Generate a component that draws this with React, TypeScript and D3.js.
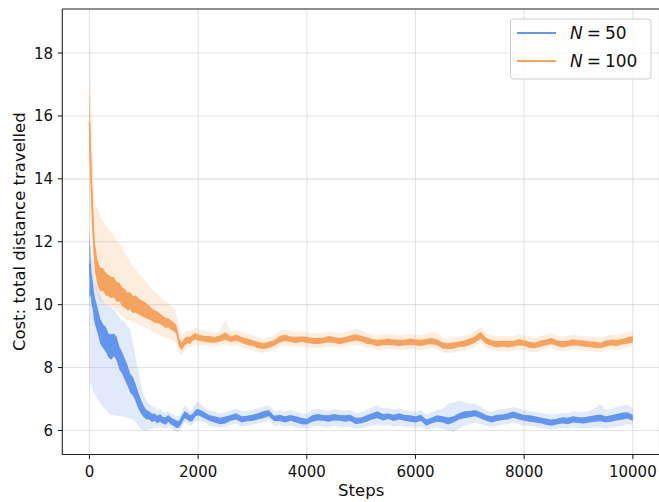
import React from 'react';
import * as d3 from 'd3';

// x positions (training steps)
const steps = [
  0, 20, 40, 60, 80, 100, 150, 200, 250, 300, 350, 400, 450, 500, 550, 600, 650, 700, 750, 800,
  850, 900, 950, 1000, 1050, 1100, 1150, 1200, 1250, 1300, 1350, 1400, 1450, 1500, 1550, 1600, 1650, 1700, 1750, 1800,
  1850, 1900, 1950, 2000,
  2100, 2200, 2300, 2400, 2500, 2600, 2700, 2800, 2900, 3000,
  3100, 3200, 3300, 3400, 3500, 3600, 3700, 3800, 3900, 4000,
  4100, 4200, 4300, 4400, 4500, 4600, 4700, 4800, 4900, 5000,
  5100, 5200, 5300, 5400, 5500, 5600, 5700, 5800, 5900, 6000,
  6100, 6200, 6300, 6400, 6500, 6600, 6700, 6800, 6900, 7000,
  7100, 7200, 7300, 7400, 7500, 7600, 7700, 7800, 7900, 8000,
  8100, 8200, 8300, 8400, 8500, 8600, 8700, 8800, 8900, 9000,
  9100, 9200, 9300, 9400, 9500, 9600, 9700, 9800, 9900, 10000,
];

// N = 50
const blueMean = [
  11.3, 10.9, 10.5, 10.3, 10.0, 9.8, 9.5, 9.15, 9.0, 8.9, 8.7, 8.65, 8.72, 8.6, 8.3, 8.15, 7.95, 7.75, 7.5, 7.4,
  7.2, 6.95, 6.75, 6.6, 6.5, 6.48, 6.4, 6.42, 6.35, 6.4, 6.32, 6.3, 6.38, 6.3, 6.25, 6.2, 6.2, 6.35, 6.5, 6.45,
  6.38, 6.42, 6.55, 6.58,
  6.5, 6.4, 6.35, 6.3, 6.33, 6.4, 6.45, 6.35, 6.38, 6.4,
  6.45, 6.5, 6.55, 6.38, 6.4, 6.35, 6.4, 6.35, 6.3, 6.28,
  6.38, 6.42, 6.4, 6.38, 6.42, 6.4, 6.38, 6.4, 6.3, 6.32,
  6.38, 6.45, 6.5, 6.42, 6.45, 6.4, 6.45, 6.4, 6.38, 6.35,
  6.4, 6.25, 6.32, 6.38, 6.35, 6.3, 6.35, 6.45, 6.5, 6.52,
  6.55, 6.48, 6.4, 6.35, 6.4, 6.42, 6.45, 6.5, 6.45, 6.4,
  6.38, 6.35, 6.32, 6.28, 6.25, 6.28, 6.32, 6.3, 6.35, 6.33,
  6.32, 6.35, 6.38, 6.4, 6.35, 6.38, 6.42, 6.45, 6.48, 6.4,
];
const blueNoise = [
  1.1, 0.6, 0.5, 0.45, 0.45, 0.42, 0.4, 0.4, 0.38, 0.4, 0.38, 0.4, 0.36, 0.38, 0.36, 0.35, 0.34, 0.33, 0.3, 0.3,
  0.28, 0.26, 0.22, 0.18, 0.15, 0.13, 0.13, 0.12, 0.12, 0.12, 0.11, 0.12, 0.11, 0.11, 0.11, 0.12, 0.11, 0.12, 0.11, 0.11,
  0.1, 0.11, 0.11, 0.1,
  0.1, 0.09, 0.1, 0.1, 0.11, 0.09, 0.1, 0.1, 0.09, 0.1,
  0.1, 0.11, 0.1, 0.09, 0.1, 0.1, 0.09, 0.1, 0.1, 0.09,
  0.1, 0.1, 0.09, 0.1, 0.1, 0.09, 0.1, 0.1, 0.1, 0.09,
  0.1, 0.1, 0.11, 0.1, 0.09, 0.1, 0.1, 0.09, 0.1, 0.1,
  0.1, 0.1, 0.09, 0.1, 0.1, 0.11, 0.1, 0.1, 0.11, 0.1,
  0.1, 0.1, 0.09, 0.1, 0.1, 0.09, 0.1, 0.1, 0.1, 0.09,
  0.1, 0.1, 0.09, 0.1, 0.1, 0.09, 0.1, 0.1, 0.1, 0.09,
  0.1, 0.1, 0.1, 0.11, 0.1, 0.1, 0.1, 0.11, 0.1, 0.1,
];
const blueLow = [
  7.3, 7.5, 7.4, 7.3, 7.2, 7.15, 7.0, 6.85, 6.75, 6.65, 6.55, 6.5, 6.5, 6.45, 6.45, 6.45, 6.42, 6.4, 6.38, 6.35,
  6.25, 6.15, 6.05, 6.0, 6.0, 6.02, 6.05, 6.1, 6.08, 6.12, 6.08, 6.05, 6.12, 6.08, 6.0, 5.95, 5.95, 6.1, 6.25, 6.2,
  6.15, 6.2, 6.3, 6.3,
  6.28, 6.15, 6.1, 6.1, 6.12, 6.18, 6.22, 6.12, 6.15, 6.18,
  6.22, 6.25, 6.3, 6.15, 6.18, 6.12, 6.16, 6.1, 6.08, 6.06,
  6.12, 6.15, 6.12, 6.1, 6.15, 6.12, 6.1, 6.12, 6.05, 6.08,
  6.12, 6.15, 6.2, 6.15, 6.18, 6.12, 6.16, 6.12, 6.1, 6.08,
  6.12, 6.02, 6.06, 6.1, 6.05, 6.0, 5.95, 6.05, 6.15, 6.2,
  6.25, 6.2, 6.15, 6.1, 6.15, 6.18, 6.2, 6.25, 6.2, 6.15,
  6.14, 6.12, 6.08, 6.05, 6.03, 6.05, 6.08, 6.06, 6.1, 6.08,
  6.06, 6.08, 6.1, 6.1, 6.05, 6.1, 6.12, 6.15, 6.2, 6.15,
];
const blueHigh = [
  12.45, 12.0, 11.6, 11.3, 11.0, 10.7, 10.5, 10.3, 10.1, 10.0, 9.95, 9.9, 9.85, 9.7, 9.6, 9.5, 9.45, 9.3, 9.2, 8.8,
  8.3, 7.9, 7.4, 7.1, 6.95, 6.85, 6.75, 6.75, 6.65, 6.7, 6.6, 6.55, 6.62, 6.55, 6.5, 6.45, 6.45, 6.6, 6.8, 6.72,
  6.62, 6.68, 6.85, 6.92,
  6.75, 6.65, 6.6, 6.55, 6.58, 6.65, 6.7, 6.62, 6.62, 6.65,
  6.7, 6.75, 6.8, 6.62, 6.65, 6.6, 6.65, 6.6, 6.55, 6.52,
  6.65, 6.7, 6.66, 6.62, 6.68, 6.65, 6.62, 6.65, 6.55, 6.58,
  6.65, 6.72, 6.8, 6.7, 6.72, 6.66, 6.7, 6.66, 6.62, 6.6,
  6.65, 6.5, 6.58, 6.65, 6.7, 6.85, 6.9, 6.95, 6.9, 6.85,
  6.85, 6.75, 6.65, 6.6, 6.65, 6.68, 6.7, 6.75, 6.7, 6.65,
  6.62, 6.6, 6.56, 6.52, 6.5, 6.52, 6.56, 6.55, 6.6, 6.58,
  6.58, 6.62, 6.7, 6.85, 6.65, 6.68, 6.75, 6.78, 6.82, 6.7,
];

// N = 100
const orangeMean = [
  15.8, 14.6, 13.6, 12.8, 12.0, 11.5, 11.0, 10.8, 10.8, 10.65, 10.6, 10.55, 10.55, 10.4, 10.4, 10.25, 10.2, 10.1, 10.12, 10.0,
  10.02, 9.95, 9.9, 9.85, 9.8, 9.75, 9.68, 9.62, 9.6, 9.55, 9.48, 9.42, 9.42, 9.35, 9.3, 9.2, 8.78, 8.68, 8.82, 8.88,
  8.86, 8.95, 9.0, 8.95,
  8.92, 8.9, 8.88, 8.92, 9.0, 8.9, 8.95, 8.88, 8.82, 8.78,
  8.72, 8.68, 8.72, 8.78, 8.9, 8.94, 8.9, 8.88, 8.9, 8.88,
  8.85, 8.84, 8.86, 8.9, 8.88, 8.84, 8.88, 8.92, 8.96, 8.92,
  8.86, 8.82, 8.78, 8.8, 8.82, 8.8, 8.78, 8.8, 8.82, 8.8,
  8.78, 8.82, 8.84, 8.8, 8.7, 8.68, 8.7, 8.74, 8.76, 8.82,
  8.9, 9.02, 8.85, 8.78, 8.74, 8.76, 8.74, 8.76, 8.8, 8.78,
  8.72, 8.7, 8.76, 8.8, 8.84, 8.78, 8.74, 8.76, 8.8, 8.78,
  8.76, 8.74, 8.72, 8.7, 8.76, 8.8, 8.78, 8.82, 8.86, 8.9,
];
const orangeNoise = [
  1.1, 0.8, 0.7, 0.6, 0.5, 0.45, 0.4, 0.38, 0.36, 0.36, 0.34, 0.34, 0.32, 0.32, 0.3, 0.3, 0.3, 0.28, 0.28, 0.27,
  0.27, 0.26, 0.25, 0.25, 0.24, 0.22, 0.2, 0.2, 0.18, 0.17, 0.16, 0.16, 0.15, 0.15, 0.14, 0.15, 0.14, 0.12, 0.12, 0.11,
  0.11, 0.1, 0.1, 0.1,
  0.09, 0.1, 0.09, 0.1, 0.12, 0.09, 0.1, 0.09, 0.1, 0.09,
  0.1, 0.09, 0.1, 0.09, 0.1, 0.1, 0.09, 0.1, 0.09, 0.1,
  0.09, 0.1, 0.09, 0.1, 0.09, 0.1, 0.09, 0.1, 0.1, 0.09,
  0.1, 0.09, 0.1, 0.09, 0.1, 0.09, 0.1, 0.09, 0.1, 0.09,
  0.1, 0.09, 0.1, 0.09, 0.1, 0.09, 0.1, 0.09, 0.1, 0.1,
  0.1, 0.11, 0.1, 0.09, 0.1, 0.09, 0.1, 0.09, 0.1, 0.09,
  0.1, 0.09, 0.1, 0.09, 0.1, 0.09, 0.1, 0.09, 0.1, 0.09,
  0.1, 0.09, 0.1, 0.09, 0.1, 0.09, 0.1, 0.09, 0.1, 0.1,
];
const orangeLow = [
  13.8, 12.6, 11.9, 11.3, 10.9, 10.6, 10.3, 10.1, 10.1, 10.0, 9.95, 9.9, 9.9, 9.75, 9.75, 9.62, 9.58, 9.5, 9.52, 9.42,
  9.45, 9.38, 9.33, 9.3, 9.25, 9.22, 9.15, 9.1, 9.08, 9.04, 8.98, 8.94, 8.94, 8.88, 8.84, 8.78, 8.45, 8.4, 8.55, 8.62,
  8.62, 8.7, 8.74, 8.7,
  8.7, 8.68, 8.66, 8.7, 8.75, 8.68, 8.72, 8.65, 8.6, 8.56,
  8.5, 8.46, 8.5, 8.56, 8.66, 8.7, 8.68, 8.66, 8.68, 8.66,
  8.62, 8.62, 8.64, 8.68, 8.66, 8.62, 8.66, 8.7, 8.72, 8.7,
  8.64, 8.6, 8.56, 8.58, 8.6, 8.58, 8.56, 8.58, 8.6, 8.58,
  8.56, 8.6, 8.62, 8.58, 8.48, 8.46, 8.48, 8.52, 8.54, 8.6,
  8.66, 8.78, 8.62, 8.56, 8.52, 8.54, 8.52, 8.54, 8.58, 8.56,
  8.5, 8.48, 8.54, 8.58, 8.62, 8.56, 8.52, 8.54, 8.58, 8.56,
  8.54, 8.52, 8.5, 8.48, 8.54, 8.58, 8.56, 8.6, 8.64, 8.68,
];
const orangeHigh = [
  18.85, 17.3, 15.8, 14.6, 13.8, 13.3, 13.0, 12.8, 12.65, 12.5, 12.4, 12.3, 12.2, 12.0, 11.95, 11.8, 11.65, 11.5, 11.4, 11.2,
  11.15, 11.0, 10.9, 10.8, 10.7, 10.6, 10.5, 10.4, 10.35, 10.25, 10.15, 10.1, 10.05, 9.95, 9.88, 9.75, 9.25, 9.0, 9.12, 9.18,
  9.15, 9.22, 9.28, 9.22,
  9.18, 9.15, 9.12, 9.18, 9.5, 9.15, 9.2, 9.12, 9.06, 9.02,
  8.96, 8.92, 8.96, 9.02, 9.15, 9.2, 9.15, 9.12, 9.15, 9.12,
  9.1, 9.08, 9.1, 9.15, 9.12, 9.08, 9.12, 9.18, 9.22, 9.18,
  9.1, 9.06, 9.02, 9.05, 9.08, 9.05, 9.02, 9.05, 9.08, 9.05,
  9.02, 9.08, 9.12, 9.1, 8.95, 8.92, 8.95, 8.98, 9.0, 9.06,
  9.18, 9.3, 9.1, 9.02, 8.98, 9.0, 8.98, 9.0, 9.05, 9.02,
  8.96, 8.94, 9.0, 9.05, 9.1, 9.02, 8.98, 9.0, 9.05, 9.02,
  9.0, 8.98, 8.96, 8.95, 9.0, 9.05, 9.04, 9.08, 9.12, 9.15,
];

const xTicks = [0, 2000, 4000, 6000, 8000, 10000];
const yTicks = [6, 8, 10, 12, 14, 16, 18];

const seriesList = [
  { name: '50', color: '#6495ED', mean: blueMean, noise: blueNoise, low: blueLow, high: blueHigh },
  { name: '100', color: '#F4A460', mean: orangeMean, noise: orangeNoise, low: orangeLow, high: orangeHigh },
];

const W = 659;
const H = 502;
const left = 62.3;
const right = 660;
const top = 9;
const bottom = 454.5;
const font = 'DejaVu Sans, sans-serif';

export default function App() {
  const x = d3.scaleLinear().domain([-500, 10500]).range([left, right]);
  const y = d3.scaleLinear().domain([5.235, 19.4]).range([bottom, top]);

  const bandArea = (lo: number[], hi: number[]) =>
    d3
      .area<number>()
      .x((s) => x(s))
      .y0((_, i) => y(lo[i]))
      .y1((_, i) => y(hi[i]))(steps) || '';

  const envArea = (m: number[], n: number[]) =>
    d3
      .area<number>()
      .x((s) => x(s))
      .y0((_, i) => y(m[i] - n[i]))
      .y1((_, i) => y(m[i] + n[i]))(steps) || '';

  const meanLine = (m: number[]) =>
    d3
      .line<number>()
      .x((s) => x(s))
      .y((_, i) => y(m[i]))(steps) || '';

  return (
    <svg width={W} height={H} style={{ position: 'absolute', left: 0, top: 0 }} fontFamily={font}>
      <rect x={0} y={0} width={W} height={H} fill="#fff" />
      <defs>
        <clipPath id="plot">
          <rect x={left} y={top} width={right - left} height={bottom - top} />
        </clipPath>
      </defs>
      <g clipPath="url(#plot)">
        {seriesList.map((s) => (
          <path key={'b' + s.name} d={bandArea(s.low, s.high)} fill={s.color} fillOpacity={0.2} stroke="none" />
        ))}
        {xTicks.map((t) => (
          <line key={'gx' + t} x1={x(t)} x2={x(t)} y1={top} y2={bottom} stroke="#b0b0b0" strokeOpacity={0.35} strokeWidth={1.1} />
        ))}
        {yTicks.map((t) => (
          <line key={'gy' + t} x1={left} x2={right} y1={y(t)} y2={y(t)} stroke="#b0b0b0" strokeOpacity={0.35} strokeWidth={1.1} />
        ))}
        {seriesList.map((s) => (
          <g key={'l' + s.name}>
            <path d={envArea(s.mean, s.noise)} fill={s.color} stroke="none" />
            <path d={meanLine(s.mean)} fill="none" stroke={s.color} strokeWidth={1.5} />
          </g>
        ))}
      </g>
      {/* spines */}
      <line x1={left} x2={left} y1={top} y2={bottom} stroke="#222" strokeWidth={1.1} />
      <line x1={left} x2={right} y1={bottom} y2={bottom} stroke="#222" strokeWidth={1.1} />
      <line x1={left} x2={right} y1={top} y2={top} stroke="#222" strokeWidth={1.1} />
      <line x1={right - 0.5} x2={right - 0.5} y1={top} y2={bottom} stroke="#222" strokeWidth={1.1} />
      {/* x ticks */}
      {xTicks.map((t) => (
        <g key={'xt' + t}>
          <line x1={x(t)} x2={x(t)} y1={bottom} y2={bottom + 4.5} stroke="#222" strokeWidth={1.1} />
          <text x={x(t)} y={477} fontSize={15} textAnchor="middle" fill="#111">
            {t}
          </text>
        </g>
      ))}
      {/* y ticks */}
      {yTicks.map((t) => (
        <g key={'yt' + t}>
          <line x1={left - 4.5} x2={left} y1={y(t)} y2={y(t)} stroke="#222" strokeWidth={1.1} />
          <text x={53} y={y(t) + 5.5} fontSize={15} textAnchor="end" fill="#111">
            {t}
          </text>
        </g>
      ))}
      <text x={(left + right) / 2} y={496} fontSize={16.5} textAnchor="middle" fill="#111">
        Steps
      </text>
      <text transform={`translate(24.5, ${(top + bottom) / 2}) rotate(-90)`} fontSize={16.5} textAnchor="middle" fill="#111">
        Cost: total distance travelled
      </text>
      {/* legend */}
      <rect x={510.5} y={19} width={140.5} height={60} rx={3} fill="#fff" fillOpacity={0.8} stroke="#cccccc" strokeWidth={1} />
      {seriesList.map((s, i) => (
        <g key={'lg' + s.name}>
          <line x1={517} x2={556} y1={33 + i * 28} y2={33 + i * 28} stroke={s.color} strokeWidth={1.8} />
          <text x={570} y={39 + i * 28} fontSize={17} fill="#111">
            <tspan fontStyle="italic">N</tspan>
            <tspan dx={4}>=</tspan>
            <tspan dx={4}>{s.name}</tspan>
          </text>
        </g>
      ))}
    </svg>
  );
}
